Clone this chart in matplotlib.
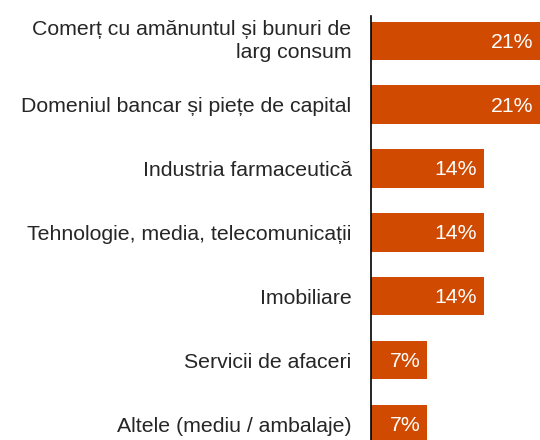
import matplotlib.pyplot as plt
import matplotlib.transforms as mtransforms
import numpy as np

plt.rcParams['font.family'] = ['Liberation Sans', 'DejaVu Sans']

categorii = ['Comerț cu amănuntul și bunuri de\nlarg consum',
             'Domeniul bancar și piețe de capital',
             'Industria farmaceutică',
             'Tehnologie, media, telecomunicații',
             'Imobiliare',
             'Servicii de afaceri',
             'Altele (mediu / ambalaje)']
procente = [21, 21, 14, 14, 14, 7, 7]

fig = plt.figure(figsize=(5.4, 4.4), dpi=100)
ax = fig.add_axes([0.687, 0.0, 0.313, 0.964])

y = np.arange(len(categorii))
ax.barh(y, procente, height=0.6, color='#D04A02')

for yi, v in zip(y, procente):
    ax.annotate(f'{v}%', xy=(v, yi), xytext=(-5, -1), textcoords='offset points',
                ha='right', va='center', color='white', fontsize=15.3)

ax.set_xlim(0, 21)
ax.set_ylim(6.25, -0.39)
ax.set_yticks(y)
ax.set_yticklabels(categorii, fontsize=15.3, color='#262626', linespacing=1.25)
ax.tick_params(axis='y', length=0, pad=14)
ax.set_xticks([])
for s in ['top', 'right', 'bottom']:
    ax.spines[s].set_visible(False)
ax.spines['left'].set_color('black')
ax.spines['left'].set_linewidth(1.2)

# prima eticheta (pe doua randuri) e putin mai sus decat bara
lbl = ax.get_yticklabels()[0]
lbl.set_transform(lbl.get_transform() +
                  mtransforms.ScaledTranslation(0, 0.04, fig.dpi_scale_trans))

fig.savefig('out.png', dpi=100)
